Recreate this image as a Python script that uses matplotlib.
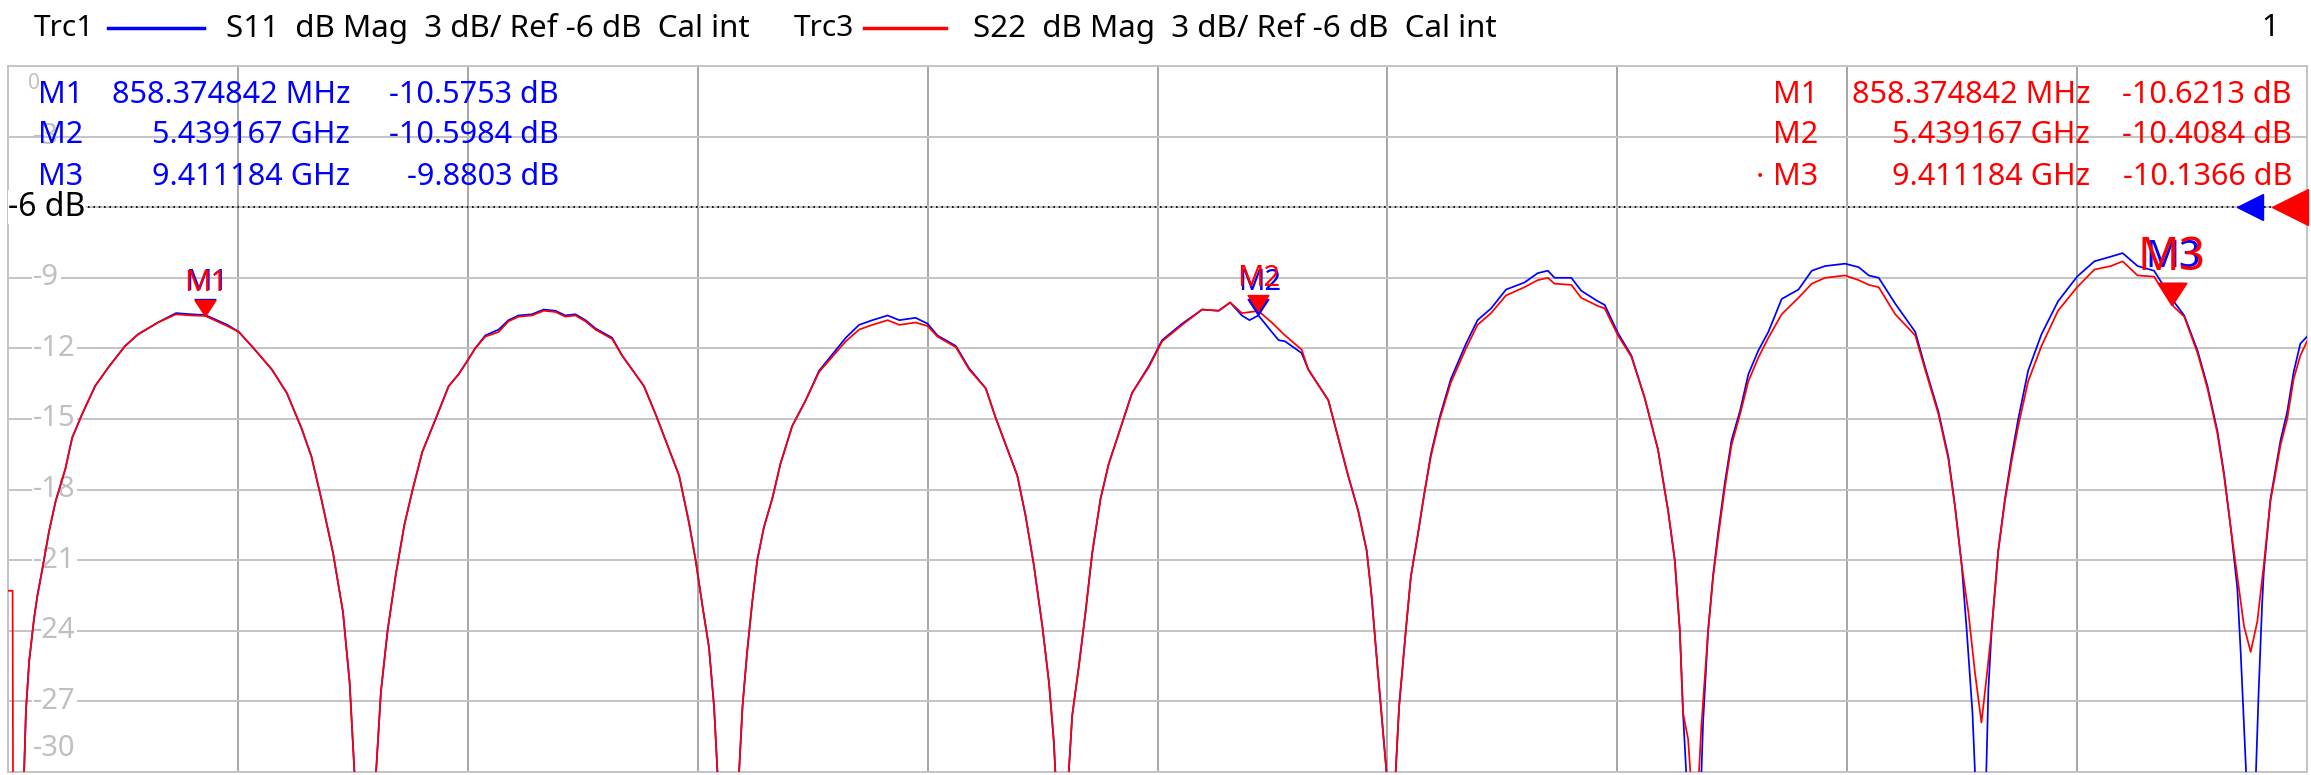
import matplotlib.pyplot as plt
from matplotlib.transforms import blended_transform_factory
from matplotlib.lines import Line2D

plt.rcParams['font.family'] = ['Noto Sans', 'DejaVu Sans']

W, H = 2311, 775

# S22 (Trc3, red) readings: (GHz, dB)
s22_points = [
    (0.000, -22.3), (0.020, -22.3), (0.024, -40.0), (0.066, -40.0), (0.070, -30.0),
    (0.078, -27.4), (0.092, -25.3), (0.113, -23.5), (0.128, -22.5), (0.149, -21.4),
    (0.178, -19.8), (0.207, -18.5), (0.250, -17.1), (0.279, -15.8), (0.322, -14.8),
    (0.379, -13.6), (0.437, -12.8), (0.509, -11.9), (0.566, -11.4), (0.652, -10.9),
    (0.731, -10.55), (0.796, -10.6), (0.858, -10.62), (0.954, -11.05), (1.004, -11.3),
    (1.069, -12.0), (1.148, -12.9), (1.213, -13.9), (1.277, -15.4), (1.320, -16.6),
    (1.363, -18.4), (1.414, -20.7), (1.457, -23.2), (1.486, -26.2), (1.507, -30.0),
    (1.555, -40.0), (1.601, -30.0), (1.622, -26.6), (1.651, -24.0), (1.687, -21.6),
    (1.724, -19.5), (1.760, -18.0), (1.802, -16.4), (1.860, -15.0), (1.917, -13.6),
    (1.960, -13.1), (2.000, -12.5), (2.032, -12.0), (2.076, -11.5), (2.134, -11.3),
    (2.177, -10.85), (2.221, -10.65), (2.279, -10.6), (2.330, -10.4), (2.381, -10.45),
    (2.424, -10.65), (2.468, -10.6), (2.512, -10.85), (2.555, -11.2), (2.628, -11.6),
    (2.671, -12.3), (2.715, -12.9), (2.766, -13.6), (2.817, -14.8), (2.860, -15.9),
    (2.919, -17.4), (2.962, -19.4), (2.991, -21.0), (3.020, -22.9), (3.049, -24.7),
    (3.071, -27.2), (3.086, -30.0), (3.133, -40.0), (3.180, -30.0), (3.195, -27.2),
    (3.215, -24.9), (3.237, -22.8), (3.259, -21.0), (3.288, -19.6), (3.324, -18.4),
    (3.360, -16.9), (3.411, -15.3), (3.470, -14.2), (3.528, -13.0), (3.586, -12.35),
    (3.644, -11.7), (3.702, -11.2), (3.760, -11.0), (3.826, -10.8), (3.877, -11.0),
    (3.948, -10.9), (4.000, -11.05), (4.043, -11.5), (4.123, -11.95), (4.181, -12.9),
    (4.253, -13.7), (4.296, -14.95), (4.340, -16.1), (4.390, -17.4), (4.426, -19.1),
    (4.462, -21.2), (4.499, -23.8), (4.528, -26.2), (4.549, -28.7), (4.556, -30.0),
    (4.585, -40.0), (4.614, -30.0), (4.629, -27.6), (4.658, -25.5), (4.687, -23.2),
    (4.716, -20.7), (4.752, -18.4), (4.788, -16.9), (4.832, -15.6), (4.889, -13.9),
    (4.962, -12.8), (5.020, -11.7), (5.107, -11.0), (5.194, -10.35), (5.266, -10.4),
    (5.316, -10.05), (5.367, -10.5), (5.439, -10.41), (5.497, -10.9), (5.555, -11.45),
    (5.627, -12.05), (5.656, -12.9), (5.743, -14.2), (5.786, -15.8), (5.829, -17.4),
    (5.873, -18.9), (5.910, -20.6), (5.931, -22.5), (5.953, -25.1), (5.975, -27.6),
    (5.996, -30.0), (6.015, -40.0), (6.036, -30.0), (6.051, -27.2), (6.080, -24.0),
    (6.102, -21.7), (6.131, -20.0), (6.160, -18.2), (6.189, -16.6), (6.225, -15.1),
    (6.276, -13.45), (6.342, -12.0), (6.392, -11.0), (6.451, -10.5), (6.516, -9.75),
    (6.596, -9.4), (6.654, -9.1), (6.698, -9.0), (6.727, -9.25), (6.800, -9.3),
    (6.843, -9.85), (6.916, -10.2), (6.945, -10.3), (7.003, -11.45), (7.061, -12.35),
    (7.119, -14.1), (7.177, -16.3), (7.221, -18.9), (7.250, -21.0), (7.272, -24.0),
    (7.286, -27.5), (7.308, -28.6), (7.328, -31.5), (7.350, -31.0), (7.366, -28.0),
    (7.395, -24.0), (7.417, -21.7), (7.439, -20.0), (7.468, -17.9), (7.497, -16.1),
    (7.534, -14.8), (7.570, -13.4), (7.613, -12.4), (7.657, -11.55), (7.715, -10.55),
    (7.788, -9.85), (7.846, -9.25), (7.904, -9.0), (7.991, -8.9), (8.050, -9.1),
    (8.094, -9.3), (8.137, -9.4), (8.209, -10.55), (8.296, -11.45), (8.339, -12.9),
    (8.397, -14.8), (8.440, -16.7), (8.469, -18.75), (8.498, -21.2), (8.527, -23.2),
    (8.556, -25.8), (8.584, -27.9), (8.606, -26.0), (8.628, -24.0), (8.657, -20.6),
    (8.686, -18.5), (8.715, -16.8), (8.744, -15.3), (8.787, -13.4), (8.845, -11.9),
    (8.917, -10.4), (9.000, -9.4), (9.075, -8.65), (9.147, -8.5), (9.198, -8.3),
    (9.263, -8.9), (9.335, -8.95), (9.411, -10.14), (9.466, -10.65), (9.524, -12.2),
    (9.567, -13.7), (9.610, -15.6), (9.639, -17.4), (9.668, -19.6), (9.697, -21.7),
    (9.726, -23.8), (9.755, -24.9), (9.784, -23.6), (9.812, -21.2), (9.841, -18.5),
    (9.885, -16.1), (9.914, -15.0), (9.942, -13.3), (9.971, -12.3), (10.000, -11.7),
]

# S11 (Trc1, blue) readings: (GHz, dB)
s11_points = [
    (0.000, -40.0), (0.066, -40.0), (0.070, -30.0),
    (0.078, -27.4), (0.092, -25.3), (0.113, -23.5), (0.128, -22.5), (0.149, -21.4),
    (0.178, -19.8), (0.207, -18.5), (0.250, -17.1), (0.279, -15.8), (0.322, -14.8),
    (0.379, -13.6), (0.437, -12.8), (0.509, -11.9), (0.566, -11.4), (0.652, -10.9),
    (0.731, -10.5), (0.796, -10.55), (0.858, -10.58), (0.954, -11.0), (1.004, -11.3),
    (1.069, -12.0), (1.148, -12.9), (1.213, -13.9), (1.277, -15.4), (1.320, -16.6),
    (1.363, -18.4), (1.414, -20.7), (1.457, -23.2), (1.486, -26.2), (1.507, -30.0),
    (1.555, -40.0), (1.601, -30.0), (1.622, -26.6), (1.651, -24.0), (1.687, -21.6),
    (1.724, -19.5), (1.760, -18.0), (1.802, -16.4), (1.860, -15.0), (1.917, -13.6),
    (1.960, -13.1), (2.000, -12.5), (2.032, -12.0), (2.076, -11.45), (2.134, -11.2),
    (2.177, -10.8), (2.221, -10.6), (2.279, -10.55), (2.330, -10.35), (2.381, -10.4),
    (2.424, -10.6), (2.468, -10.55), (2.512, -10.8), (2.555, -11.15), (2.628, -11.55),
    (2.671, -12.3), (2.715, -12.9), (2.766, -13.6), (2.817, -14.8), (2.860, -15.9),
    (2.919, -17.4), (2.962, -19.4), (2.991, -21.0), (3.020, -22.9), (3.049, -24.7),
    (3.071, -27.2), (3.086, -30.0), (3.133, -40.0), (3.180, -30.0), (3.195, -27.2),
    (3.215, -24.9), (3.237, -22.8), (3.259, -21.0), (3.288, -19.6), (3.324, -18.4),
    (3.360, -16.9), (3.411, -15.3), (3.470, -14.2), (3.528, -12.95), (3.586, -12.25),
    (3.644, -11.55), (3.702, -11.0), (3.760, -10.8), (3.826, -10.6), (3.877, -10.8),
    (3.948, -10.7), (4.000, -10.95), (4.043, -11.45), (4.123, -11.9), (4.181, -12.85),
    (4.253, -13.7), (4.296, -14.95), (4.340, -16.1), (4.390, -17.4), (4.426, -19.1),
    (4.462, -21.2), (4.499, -23.8), (4.528, -26.2), (4.549, -28.7), (4.556, -30.0),
    (4.585, -40.0), (4.614, -30.0), (4.629, -27.6), (4.658, -25.5), (4.687, -23.2),
    (4.716, -20.7), (4.752, -18.4), (4.788, -16.9), (4.832, -15.6), (4.889, -13.9),
    (4.962, -12.75), (5.020, -11.65), (5.107, -10.95), (5.194, -10.35), (5.266, -10.4),
    (5.316, -10.05), (5.367, -10.6), (5.400, -10.8), (5.439, -10.6), (5.497, -11.3),
    (5.527, -11.65), (5.555, -11.7), (5.627, -12.2), (5.656, -12.9), (5.743, -14.2),
    (5.786, -15.8), (5.829, -17.4),
    (5.873, -18.9), (5.910, -20.6), (5.931, -22.5), (5.953, -25.1), (5.975, -27.6),
    (5.996, -30.0), (6.015, -40.0), (6.036, -30.0), (6.051, -27.2), (6.080, -24.0),
    (6.102, -21.7), (6.131, -20.0), (6.160, -18.2), (6.189, -16.5), (6.225, -15.0),
    (6.276, -13.3), (6.342, -11.8), (6.392, -10.8), (6.451, -10.3), (6.516, -9.5),
    (6.596, -9.2), (6.654, -8.8), (6.698, -8.7), (6.727, -9.0), (6.800, -9.0),
    (6.843, -9.55), (6.916, -10.0), (6.945, -10.15), (7.003, -11.35), (7.061, -12.3),
    (7.119, -14.1), (7.177, -16.3), (7.221, -18.9), (7.250, -21.0), (7.272, -24.0),
    (7.286, -27.5), (7.300, -30.0), (7.333, -40.0), (7.366, -30.0), (7.373, -27.9),
    (7.395, -24.0), (7.417, -21.6), (7.439, -19.8), (7.468, -17.7), (7.497, -15.9),
    (7.534, -14.65), (7.570, -13.1), (7.613, -12.1), (7.657, -11.3), (7.715, -9.9),
    (7.788, -9.5), (7.846, -8.7), (7.904, -8.5), (7.991, -8.4), (8.050, -8.55),
    (8.094, -8.9), (8.137, -9.0), (8.209, -10.1), (8.296, -11.3), (8.339, -12.8),
    (8.397, -14.7), (8.440, -16.6), (8.469, -18.7), (8.498, -21.2), (8.520, -24.0),
    (8.545, -27.5), (8.556, -30.0), (8.585, -40.0), (8.605, -30.0), (8.614, -26.5),
    (8.628, -24.0), (8.657, -20.6),
    (8.686, -18.4), (8.715, -16.6), (8.744, -15.0), (8.787, -12.95), (8.845, -11.4),
    (8.917, -10.0), (9.000, -8.95), (9.075, -8.3), (9.147, -8.1), (9.198, -7.95),
    (9.263, -8.5), (9.335, -8.7), (9.411, -9.88), (9.466, -10.6), (9.524, -12.1),
    (9.567, -13.6), (9.610, -15.5), (9.639, -17.3), (9.668, -19.6), (9.697, -22.2),
    (9.712, -25.0), (9.726, -28.0), (9.735, -30.0), (9.757, -40.0), (9.778, -30.0),
    (9.790, -26.5), (9.805, -22.8), (9.812, -21.5), (9.841, -18.4),
    (9.885, -15.9), (9.914, -14.7), (9.942, -13.0), (9.971, -11.8), (10.000, -11.5),
]

marker_names = ["M1", "M2", "M3"]
marker_freq = [0.858374842, 5.439167, 9.411184]
marker_freq_text = ["858.374842 MHz", "5.439167 GHz", "9.411184 GHz"]
s11_marker_db = [-10.5753, -10.5984, -9.8803]
s22_marker_db = [-10.6213, -10.4084, -10.1366]

y_tick_values = [-9, -12, -15, -18, -21, -24, -27]

BLUE = "#0000ff"
RED = "#ff0000"


def fx(x):
    return x / W


def fy(y):
    return 1 - y / H


fig = plt.figure(figsize=(W / 100, H / 100), dpi=100)
left, right, top, bottom = 8, 2307, 66, 772
ax = fig.add_axes([fx(left), fy(bottom), (right - left) / W, (bottom - top) / H])
ax.set_xlim(0, 10)
ax.set_ylim(-30, 0)
ax.set_xticks(range(0, 11))
ax.set_yticks(range(-30, 1, 3))
ax.tick_params(length=0, labelbottom=False, labelleft=False)
ax.xaxis.grid(True, color="#a6a6a6", lw=1.4)
ax.yaxis.grid(True, color="#c4c4c4", lw=1.4)
ax.set_axisbelow(True)
for s in ax.spines.values():
    s.set_color("#c4c4c4")
    s.set_linewidth(1.4)

# traces
f11 = [p[0] for p in s11_points]
d11 = [p[1] for p in s11_points]
f22 = [p[0] for p in s22_points]
d22 = [p[1] for p in s22_points]
ax.plot(f11, d11, color=BLUE, lw=1.25, zorder=3)
ax.plot(f22, d22, color=RED, lw=1.25, zorder=4)

# reference level line
ax.axhline(-6, color="black", lw=1.2, ls=(0, (1, 2.2)), zorder=2)
blend = blended_transform_factory(ax.transAxes, ax.transData)
ax.plot([0.9752], [-6], marker="<", ms=19, color=BLUE, transform=blend, clip_on=False, zorder=6)
ax.plot([0.9925], [-6], marker="<", ms=26, color=RED, transform=blend, clip_on=False, zorder=6)
ax.text(0.0, -6, "-6 dB", transform=blend, ha="left", va="center", fontsize=23,
        color="black", zorder=7,
        bbox=dict(facecolor="white", edgecolor="none", pad=0.3))

# y labels
for v in y_tick_values:
    ax.text(0.011, v, str(v), transform=blend, ha="left", va="center", fontsize=21,
            color="#c0c0c0", zorder=2.5,
            bbox=dict(facecolor="white", edgecolor="none", pad=1))
ax.text(0.011, -29.6, "-30", transform=blend, ha="left", va="bottom", fontsize=21,
        color="#c0c0c0", zorder=2.5,
        bbox=dict(facecolor="white", edgecolor="none", pad=0))
ax.text(0.011, -3, "-3", transform=blend, ha="left", va="center", fontsize=21,
        color="#c0c0c0", zorder=2.5)
ax.text(0.0085, -0.3, "0", transform=blend, ha="left", va="top", fontsize=15,
        color="#c0c0c0", zorder=2.5)

# markers on traces (tip of triangle at the trace point)
tri = [(0, 0), (-0.65, 1), (0.65, 1), (0, 0)]
for i, name in enumerate(marker_names):
    big = name == "M3"
    ax.plot(marker_freq[i], s11_marker_db[i], marker=tri, ms=23, color=BLUE, zorder=5)
    ax.annotate(name, (marker_freq[i], s11_marker_db[i]), xytext=(1, 13 if not big else 16),
                textcoords="offset points", ha="center", va="bottom",
                fontsize=21 if not big else 27, color=BLUE, zorder=5)
    ax.plot(marker_freq[i], s22_marker_db[i], marker=tri, ms=23 if not big else 32,
            color=RED, zorder=6)
    ax.annotate(name, (marker_freq[i], s22_marker_db[i]), xytext=(0, 13 if not big else 17),
                textcoords="offset points", ha="center", va="bottom",
                fontsize=21 if not big else 33, color=RED, zorder=6)

# marker tables
row_y = [95, 135, 177]
for i, name in enumerate(marker_names):
    y = fy(row_y[i])
    fig.text(fx(38), y, name, color=BLUE, fontsize=22, ha="left", va="center")
    fig.text(fx(350), y, marker_freq_text[i], color=BLUE, fontsize=22, ha="right", va="center")
    fig.text(fx(559), y, f"{s11_marker_db[i]:.4f} dB", color=BLUE, fontsize=22,
             ha="right", va="center")
    fig.text(fx(1818), y, name, color=RED, fontsize=22, ha="right", va="center")
    fig.text(fx(2090), y, marker_freq_text[i], color=RED, fontsize=22, ha="right", va="center")
    fig.text(fx(2292), y, f"{s22_marker_db[i]:.4f} dB", color=RED, fontsize=22,
             ha="right", va="center")
fig.text(fx(1760), fy(row_y[2]), "•", color=RED, fontsize=12, ha="center", va="center")

# header
hy = fy(28)
fig.text(fx(34), hy, "Trc1", fontsize=21.5, ha="left", va="center")
fig.add_artist(Line2D([fx(108), fx(204)], [hy, hy], color=BLUE, lw=2.5))
fig.text(fx(226), hy, "S11  dB Mag  3 dB/ Ref -6 dB  Cal int", fontsize=22.5,
         ha="left", va="center")
fig.text(fx(794), hy, "Trc3", fontsize=21.5, ha="left", va="center")
fig.add_artist(Line2D([fx(864), fx(946)], [hy, hy], color=RED, lw=2.5))
fig.text(fx(973), hy, "S22  dB Mag  3 dB/ Ref -6 dB  Cal int", fontsize=22.5,
         ha="left", va="center")
fig.text(fx(2270), hy, "1", fontsize=22, ha="center", va="center")

fig.savefig("out.png", dpi=100, facecolor="white")
